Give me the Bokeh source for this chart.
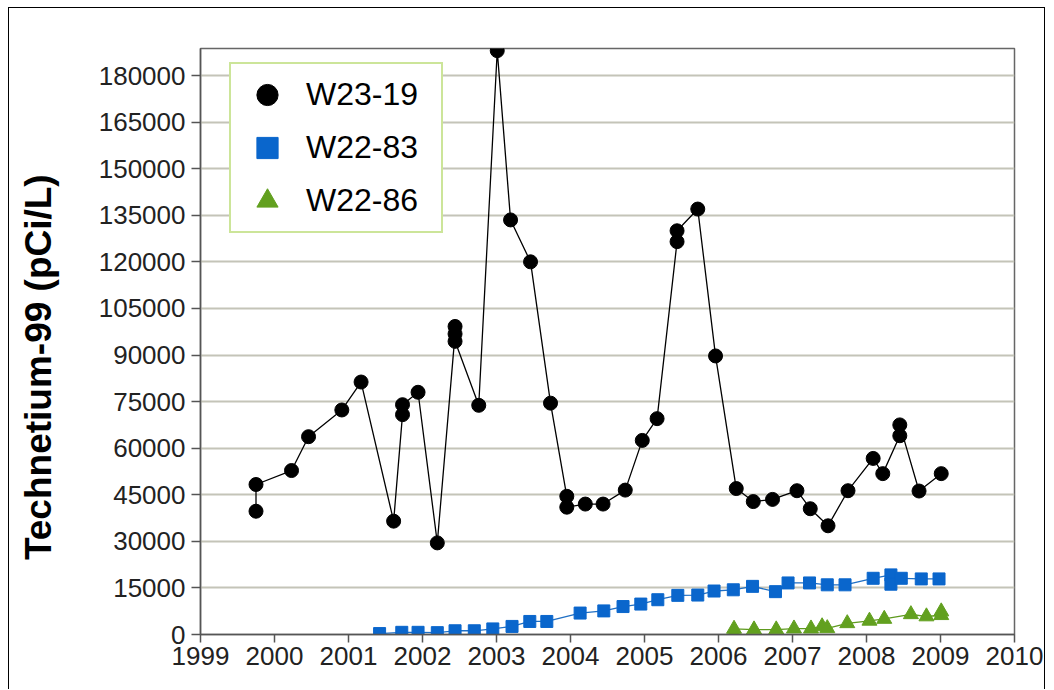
from bokeh.plotting import figure
from bokeh.models import (Range1d, FixedTicker, Legend, LegendItem,
                          BasicTickFormatter)
from bokeh.embed import file_html
from bokeh.resources import INLINE

# ---------------- data (decimal year, pCi/L) ----------------
w2319_year = [1999.75, 1999.75, 2000.23, 2000.46, 2000.91, 2001.17, 2001.61,
              2001.73, 2001.73, 2001.94, 2002.20, 2002.44, 2002.44, 2002.44,
              2002.76, 2003.01, 2003.19, 2003.46, 2003.73, 2003.95, 2003.95,
              2004.20, 2004.44, 2004.74, 2004.97, 2005.17, 2005.44, 2005.44,
              2005.72, 2005.96, 2006.24, 2006.47, 2006.73, 2007.06, 2007.24,
              2007.48, 2007.75, 2008.09, 2008.22, 2008.45, 2008.45, 2008.71,
              2009.01]
w2319_tc = [39700, 48300, 52800, 63700, 72300, 81300, 36500,
            70800, 74000, 78000, 29500, 96800, 99200, 94400,
            73800, 188000, 133500, 120000, 74500, 44500, 41000,
            42000, 42000, 46500, 62500, 69500, 126500, 130000,
            137000, 89700, 47000, 42800, 43500, 46300, 40500,
            35000, 46300, 56700, 51800, 64000, 67500, 46200,
            51800]

w2283_year = [2001.42, 2001.72, 2001.94, 2002.20, 2002.44, 2002.70, 2002.95,
              2003.21, 2003.45, 2003.68, 2004.13, 2004.45, 2004.71, 2004.95,
              2005.18, 2005.45, 2005.72, 2005.94, 2006.20, 2006.46, 2006.77,
              2006.94, 2007.23, 2007.47, 2007.71, 2008.09, 2008.33, 2008.33,
              2008.47, 2008.74, 2008.98]
w2283_tc = [300, 700, 700, 600, 1200, 1200, 1800,
            2600, 4200, 4200, 6900, 7600, 9000, 9800,
            11200, 12600, 12700, 14000, 14400, 15500, 13800,
            16600, 16600, 16000, 16000, 18100, 19200, 16200,
            18100, 17900, 17900]

w2286_year = [2006.21, 2006.21, 2006.48, 2006.78, 2007.02, 2007.25, 2007.40,
              2007.47, 2007.74, 2008.04, 2008.24, 2008.60, 2008.81, 2009.01,
              2009.01]
w2286_tc = [300, 1800, 1600, 1600, 1900, 1900, 2600,
            2000, 3600, 4400, 5000, 6500, 5800, 6200,
            7400]

series_names = ["W23-19", "W22-83", "W22-86"]
year_ticks = list(range(1999, 2011))
tc_ticks = list(range(0, 180001, 15000))
y_label = "Technetium-99 (pCi/L)"

FONT = "Liberation Sans"

p = figure(width=1037, height=682,
           x_range=Range1d(1999, 2010), y_range=Range1d(0, 188700),
           output_backend="svg", toolbar_location=None,
           min_border_left=191, min_border_right=32,
           min_border_top=40, min_border_bottom=56,
           background_fill_color="white", border_fill_color="white")
p.margin = (7, 0, 0, 8)
p.styles = {"border-left": "1px solid #000", "border-top": "1px solid #000",
            "border-right": "1px solid #000"}

p.outline_line_color = "#666666"
p.outline_line_width = 1.5

p.xgrid.visible = False
p.ygrid.ticker = FixedTicker(ticks=tc_ticks)
p.ygrid.grid_line_color = "#c4c4b8"
p.ygrid.grid_line_width = 2

p.xaxis.ticker = FixedTicker(ticks=year_ticks)
p.yaxis.ticker = FixedTicker(ticks=tc_ticks)
p.yaxis.formatter = BasicTickFormatter(use_scientific=False)
p.xaxis.formatter = BasicTickFormatter(use_scientific=False)
for ax in (p.xaxis[0], p.yaxis[0]):
    ax.major_label_text_font = FONT
    ax.major_label_text_font_size = "26px"
    ax.major_label_text_color = "#222222"
    ax.axis_line_color = "#555555"
    ax.axis_line_width = 1.5
    ax.major_tick_line_color = "#555555"
    ax.major_tick_line_width = 1.5
    ax.major_tick_in = 0
    ax.minor_tick_line_color = None
p.yaxis.major_tick_out = 9
p.yaxis.major_label_standoff = 6
p.xaxis.major_tick_out = 8
p.xaxis.major_label_standoff = 4

# y-axis title; trailing no-break spaces push the visible text a little
# below the frame's centre, as in the reference
p.yaxis.axis_label = y_label + "\u00a0" * 5
p.yaxis.axis_label_standoff = 37
p.yaxis.axis_label_text_font = FONT
p.yaxis.axis_label_text_font_size = "37px"
p.yaxis.axis_label_text_font_style = "bold"
p.yaxis.axis_label_text_color = "black"

# lines
p.line(w2319_year, w2319_tc, line_color="black", line_width=1.3)
p.line(w2283_year, w2283_tc, line_color="#1f6fc4", line_width=1.3)
p.line(w2286_year, w2286_tc, line_color="#5e9a1e", line_width=1.3)

# markers
r1 = p.scatter(w2319_year, w2319_tc, marker="circle", size=14,
               fill_color="black", line_color="black")
r2 = p.scatter(w2283_year, w2283_tc, marker="square", size=12,
               fill_color="#0a66cc", line_color="#0a66cc")
r3 = p.scatter(w2286_year, w2286_tc, marker="triangle", size=15,
               fill_color="#62a01f", line_color="#62a01f")

legend = Legend(items=[LegendItem(label=series_names[0], renderers=[r1]),
                       LegendItem(label=series_names[1], renderers=[r2]),
                       LegendItem(label=series_names[2], renderers=[r3])],
                location=(29, 401), margin=0, padding=4, spacing=0,
                glyph_width=64, glyph_height=53, label_height=53,
                label_standoff=7, label_width=131,
                label_text_font=FONT, label_text_font_size="32px",
                label_text_color="black",
                border_line_color="#99cc33", border_line_width=2,
                background_fill_color="white", background_fill_alpha=1)
p.add_layout(legend)

open("out.html", "w").write(file_html(p, INLINE))
